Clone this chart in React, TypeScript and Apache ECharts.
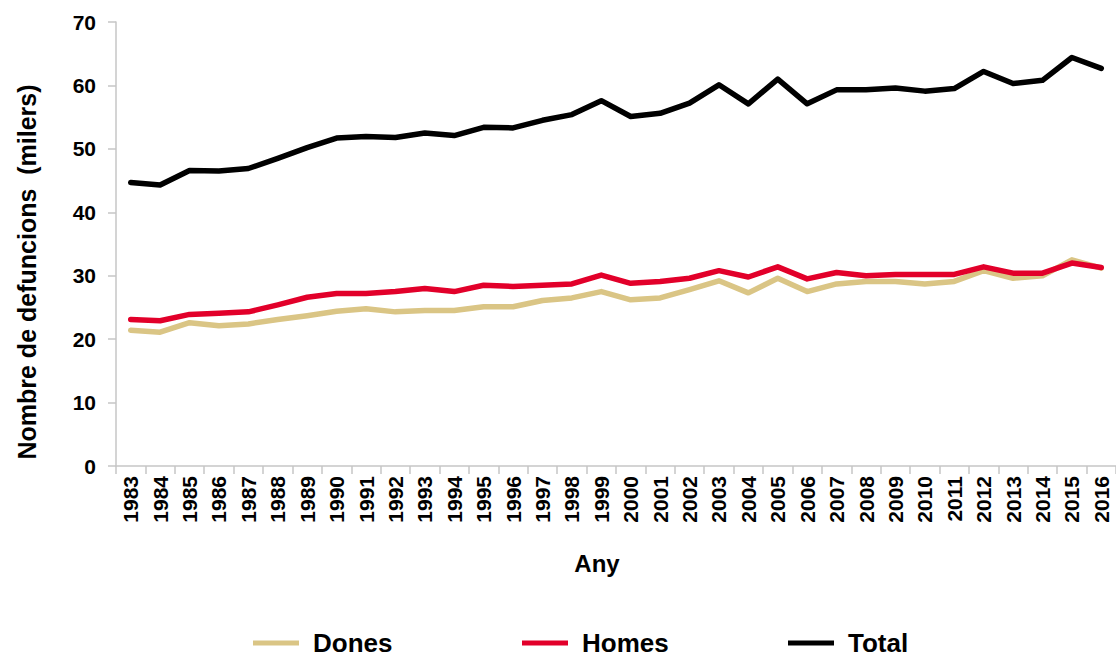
import React, { useEffect, useRef } from "react";
import * as echarts from "echarts";

const years = ["1983","1984","1985","1986","1987","1988","1989","1990","1991","1992","1993","1994","1995","1996","1997","1998","1999","2000","2001","2002","2003","2004","2005","2006","2007","2008","2009","2010","2011","2012","2013","2014","2015","2016"];
const dones = [21.4,21.1,22.6,22.1,22.4,23.1,23.7,24.4,24.8,24.3,24.5,24.5,25.1,25.1,26.1,26.5,27.5,26.2,26.5,27.8,29.2,27.3,29.6,27.5,28.7,29.1,29.1,28.7,29.1,30.8,29.6,30.0,32.5,31.2];
const homes = [23.1,22.9,23.9,24.1,24.3,25.4,26.6,27.2,27.2,27.5,28.0,27.5,28.5,28.3,28.5,28.7,30.1,28.8,29.1,29.6,30.8,29.8,31.4,29.5,30.5,30.0,30.2,30.2,30.2,31.4,30.4,30.4,32.0,31.3];
const total = [44.7,44.3,46.6,46.5,46.9,48.5,50.2,51.7,51.95,51.8,52.5,52.1,53.4,53.3,54.5,55.4,57.6,55.1,55.6,57.2,60.1,57.1,61.0,57.1,59.3,59.3,59.6,59.1,59.5,62.2,60.3,60.8,64.4,62.7];
const yTicks = { min: 0, max: 70, interval: 10 };

const FONT = "'Liberation Sans', Arial, sans-serif";
const AXIS_GRAY = "#C6C6C6";

export default function App() {
  const ref = useRef<HTMLDivElement>(null);
  useEffect(() => {
    document.body.style.margin = "0";
    const chart = echarts.init(ref.current!, null, { renderer: "svg" });
    const legendBase = {
      top: 630,
      padding: 0,
      icon: "rect",
      itemWidth: 46,
      itemHeight: 5,
      textStyle: { fontFamily: FONT, fontWeight: "bold", fontSize: 26, color: "#000", padding: [0, 0, 0, 9] },
    };
    chart.setOption({
      animation: false,
      backgroundColor: "#fff",
      grid: { left: 116, top: 22, width: 1002, height: 444 },
      legend: [
        { ...legendBase, left: 253, data: ["Dones"] },
        { ...legendBase, left: 522, data: ["Homes"] },
        { ...legendBase, left: 788, data: ["Total"] },
      ],
      xAxis: {
        type: "category",
        data: years,
        boundaryGap: true,
        axisLine: { lineStyle: { color: AXIS_GRAY, width: 1.5 } },
        axisTick: { show: true, length: 8, lineStyle: { color: AXIS_GRAY, width: 1.5 } },
        axisLabel: { rotate: 90, margin: 10, interval: 0, fontFamily: FONT, fontWeight: "bold", fontSize: 21, color: "#000" },
      },
      yAxis: {
        type: "value",
        min: yTicks.min,
        max: yTicks.max,
        interval: yTicks.interval,
        splitLine: { show: false },
        axisLine: { show: true, lineStyle: { color: AXIS_GRAY, width: 1.5 } },
        axisTick: { show: true, length: 8, lineStyle: { color: AXIS_GRAY, width: 1.5 } },
        axisLabel: { margin: 20, fontFamily: FONT, fontWeight: "bold", fontSize: 21, color: "#000" },
      },
      graphic: [
        {
          type: "text",
          x: 27,
          y: 272,
          rotation: Math.PI / 2,
          style: {
            text: "Nombre de defuncions  (milers)",
            font: `bold 25px ${FONT}`,
            fill: "#000",
            textAlign: "center",
            textVerticalAlign: "middle",
            verticalAlign: "middle",
          },
        },
        {
          type: "text",
          x: 597,
          y: 563,
          style: {
            text: "Any",
            font: `bold 24px ${FONT}`,
            fill: "#000",
            textAlign: "center",
            textVerticalAlign: "middle",
            verticalAlign: "middle",
          },
        },
      ],
      series: [
        { name: "Dones", type: "line", data: dones, showSymbol: false, symbol: "none", itemStyle: { color: "#DAC585" }, lineStyle: { color: "#DAC585", width: 5.5, cap: "round", join: "round" } },
        { name: "Homes", type: "line", data: homes, showSymbol: false, symbol: "none", itemStyle: { color: "#E2002A" }, lineStyle: { color: "#E2002A", width: 5.5, cap: "round", join: "round" } },
        { name: "Total", type: "line", data: total, showSymbol: false, symbol: "none", itemStyle: { color: "#000000" }, lineStyle: { color: "#000000", width: 5.5, cap: "round", join: "round" } },
      ],
    });
    return () => chart.dispose();
  }, []);
  return <div ref={ref} style={{ width: 1116, height: 662 }} />;
}
